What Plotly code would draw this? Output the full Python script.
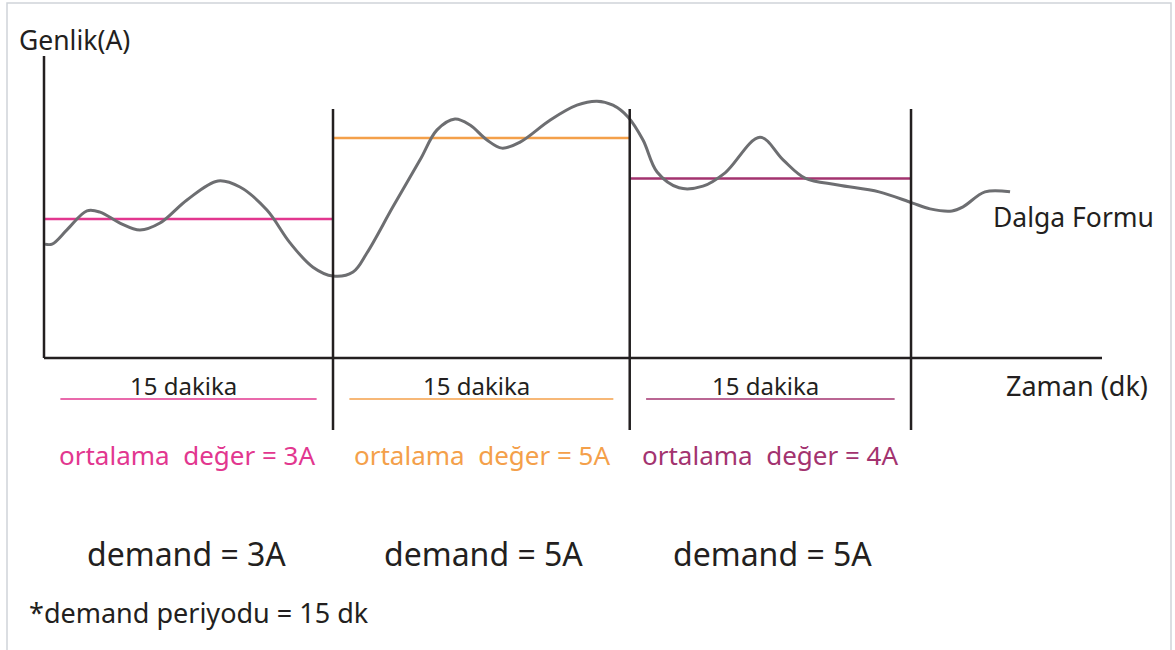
import plotly.graph_objects as go

# ---- data (time in minutes, amplitude in A) ----
wave_t = [0.05, 0.42, 1.19, 2.23, 2.91, 3.94, 4.98, 6.02, 7.42, 9.03, 10.17, 11.57, 12.77,
          13.96, 15.00, 16.04, 16.76, 18.11, 19.52, 20.40, 21.33, 22.11, 22.99, 23.77, 24.71,
          26.26, 27.66, 28.70, 29.53, 30.31, 31.09, 31.82, 32.96, 34.20, 35.35, 37.16, 38.36,
          39.50, 41.21, 43.34, 45.05, 45.99, 47.13, 47.70, 48.84, 50.14]
wave_a = [2.38, 2.38, 2.73, 3.20, 3.17, 2.90, 2.73, 2.90, 3.47, 3.94, 3.79, 3.22, 2.41,
          1.81, 1.59, 1.69, 2.16, 3.30, 4.46, 5.20, 5.47, 5.32, 4.95, 4.75, 4.90,
          5.44, 5.81, 5.91, 5.81, 5.52, 4.95, 4.16, 3.77, 3.81, 4.14, 5.02, 4.46,
          4.01, 3.84, 3.67, 3.40, 3.25, 3.20, 3.30, 3.67, 3.67]

period_edges = [0, 15.0, 30.4, 45.0]
period_avg = [3, 5, 4]
period_demand = [3, 5, 5]
period_labels = ["15 dakika", "15 dakika", "15 dakika"]
avg_labels = ["ortalama  değer = 3A", "ortalama  değer = 5A", "ortalama  değer = 4A"]
demand_labels = ["demand = 3A", "demand = 5A", "demand = 5A"]
period_colors = ["#e2378f", "#f4a04a", "#a3336f"]

W, H = 1175, 650
KX, X0 = 19.267, 44.0      # px per minute, pixel of t=0
KY, Y0 = 40.5, 340.5       # px per A, pixel of A=0

def px2t(px):
    return (px - X0) / KX

def py2a(py):
    return (Y0 - py) / KY

def pp(px, py):
    return px / W, 1 - py / H

fig = go.Figure()

# averages
for i in range(3):
    fig.add_trace(go.Scatter(x=[period_edges[i], period_edges[i + 1]], y=[period_avg[i]] * 2,
                             mode="lines", line=dict(color=period_colors[i], width=2.5),
                             hoverinfo="skip", showlegend=False))

# waveform
fig.add_trace(go.Scatter(x=wave_t, y=wave_a, mode="lines",
                         line=dict(color="#6d6e71", width=3, shape="spline", smoothing=1.0),
                         showlegend=False))

AX = "#231f20"
base_a = py2a(358)
shapes = []
shapes.append(dict(type="line", xref="x", yref="y", x0=0, x1=0, y0=base_a, y1=py2a(56),
                   line=dict(color=AX, width=2.5)))
shapes.append(dict(type="line", xref="x", yref="y", x0=0, x1=px2t(1102), y0=base_a, y1=base_a,
                   line=dict(color=AX, width=2.5)))
for e in period_edges[1:]:
    shapes.append(dict(type="line", xref="x", yref="y", x0=e, x1=e, y0=py2a(430), y1=py2a(109),
                       line=dict(color=AX, width=2.5)))
for i in range(3):
    a, b = period_edges[i], period_edges[i + 1]
    shapes.append(dict(type="line", xref="x", yref="y", x0=a + 0.85, x1=b - 0.85,
                       y0=py2a(399), y1=py2a(399),
                       line=dict(color=period_colors[i], width=1.5)))
shapes.append(dict(type="rect", xref="paper", yref="paper", x0=7 / W, x1=1171 / W, y0=-0.01, y1=1 - 3 / H,
                   line=dict(color="#cfd4d9", width=1.5)))

FONT = "Noto Sans"
ann = []
def text(t, px, py, size, color="#231f20", xanchor="center"):
    x, y = pp(px, py)
    ann.append(dict(text=t, x=x, y=y, xref="paper", yref="paper", showarrow=False,
                    xanchor=xanchor, yanchor="middle",
                    font=dict(family=FONT, size=size, color=color)))

text("Genlik(A)", 17, 40, 26.5, xanchor="left")
text("Dalga Formu", 991, 217, 26.5, xanchor="left")
text("Zaman (dk)", 1004, 386, 27, xanchor="left")
avg_dx = [-2, 1, 0]
dem_dx = [-2, 2, 2]
for i in range(3):
    mid = X0 + KX * (period_edges[i] + period_edges[i + 1]) / 2
    text(period_labels[i], mid - 5, 385, 24)
    text(avg_labels[i], mid + avg_dx[i], 455, 26, color=period_colors[i])
    text(demand_labels[i], mid + dem_dx[i], 553, 32)
text("*demand periyodu = 15 dk", 27, 612, 27, xanchor="left")

fig.update_layout(
    width=W, height=H, margin=dict(l=0, r=0, t=0, b=0),
    paper_bgcolor="white", plot_bgcolor="white",
    xaxis=dict(range=[px2t(0), px2t(W)], visible=False, fixedrange=True),
    yaxis=dict(range=[py2a(H), py2a(0)], visible=False, fixedrange=True),
    shapes=shapes, annotations=ann, showlegend=False,
)
fig.write_html("out.html", config={"displayModeBar": False},
               post_script="document.body.style.margin='0px';document.body.style.overflow='hidden';")
